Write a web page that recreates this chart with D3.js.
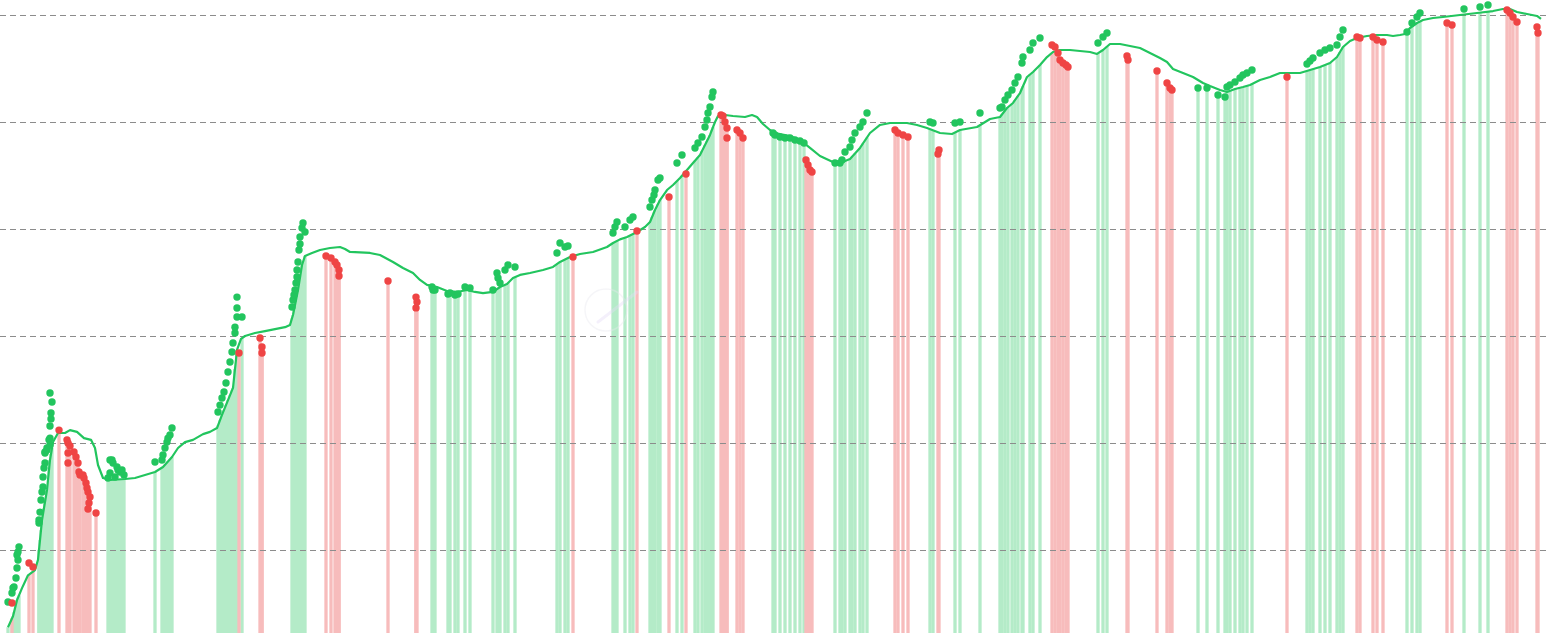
<!DOCTYPE html>
<html><head><meta charset="utf-8">
<script src="https://cdn.jsdelivr.net/npm/d3@7"></script>
<style>html,body{margin:0;padding:0;background:#fff;overflow:hidden}svg{display:block}</style>
</head><body><svg id="chart" width="1550" height="633"></svg>
<script>
// Moving-average line: [year, price]
const maLine = [[2010.58,0.19],[2010.63,0.24],[2010.67,0.34],[2010.72,0.44],[2010.78,0.58],[2010.85,0.65],[2010.88,0.81],[2010.92,1.9],[2010.97,3.64],[2011.00,6.94],[2011.03,10.2],[2011.08,12.4],[2011.15,12.4],[2011.20,13.2],[2011.27,12.7],[2011.34,11.1],[2011.41,10.7],[2011.45,8.98],[2011.48,6.23],[2011.53,4.71],[2011.60,4.51],[2011.75,4.61],[2011.85,4.71],[2011.95,5.02],[2012.05,5.36],[2012.13,5.97],[2012.22,7.40],[2012.28,8.98],[2012.35,10.2],[2012.43,10.7],[2012.53,12.1],[2012.60,12.7],[2012.67,13.8],[2012.72,18.3],[2012.78,25.2],[2012.83,32.7],[2012.87,74.0],[2012.91,93.8],[2012.95,100],[2013.05,106.7],[2013.15,111],[2013.25,116],[2013.35,121],[2013.40,127],[2013.43,157],[2013.48,269],[2013.52,461],[2013.55,560],[2013.62,597],[2013.70,637],[2013.80,664],[2013.90,679],[2013.95,650],[2014.00,610],[2014.20,597],[2014.30,571],[2014.43,492],[2014.53,432],[2014.63,388],[2014.70,334],[2014.77,300],[2014.87,287],[2014.97,263],[2015.07,258],[2015.17,269],[2015.25,258],[2015.33,252],[2015.43,258],[2015.50,287],[2015.57,306],[2015.63,348],[2015.70,372],[2015.80,388],[2015.93,414],[2016.03,442],[2016.10,492],[2016.20,547],[2016.30,584],[2016.43,610],[2016.57,679],[2016.63,740],[2016.70,800],[2016.77,842],[2016.87,938],[2016.95,1045],[2017.00,1163],[2017.05,1505],[2017.10,1866],[2017.17,2314],[2017.23,2578],[2017.30,2998],[2017.37,3558],[2017.43,4140],[2017.50,4920],[2017.55,6100],[2017.60,7565],[2017.65,10000],[2017.68,11380],[2017.75,11620],[2017.83,11380],[2017.95,11140],[2018.02,11620],[2018.07,11140],[2018.13,9580],[2018.20,8420],[2018.25,7890],[2018.40,7400],[2018.50,6790],[2018.60,5720],[2018.70,4810],[2018.85,4140],[2018.90,4140],[2019.00,4510],[2019.10,5720],[2019.20,7890],[2019.30,9380],[2019.40,9790],[2019.57,9790],[2019.67,9380],[2019.77,8790],[2019.90,7890],[2020.02,7720],[2020.10,8420],[2020.27,8980],[2020.40,10670],[2020.50,11140],[2020.57,13520],[2020.63,15060],[2020.70,18660],[2020.77,26350],[2020.83,29320],[2020.90,34120],[2020.97,40470],[2021.03,45090],[2021.10,47100],[2021.20,47100],[2021.30,46100],[2021.40,45090],[2021.47,43250],[2021.53,47100],[2021.60,53570],[2021.70,53570],[2021.80,51290],[2021.90,49170],[2022.00,44160],[2022.10,39630],[2022.17,36390],[2022.23,31270],[2022.33,28710],[2022.43,26350],[2022.53,23130],[2022.60,21690],[2022.70,19910],[2022.77,19060],[2022.85,20340],[2022.93,21240],[2023.00,22180],[2023.10,24710],[2023.20,26350],[2023.30,28710],[2023.50,28710],[2023.60,30620],[2023.70,32660],[2023.80,35570],[2023.87,40470],[2023.93,50230],[2024.00,57150],[2024.07,60950],[2024.17,63630],[2024.27,65000],[2024.37,65000],[2024.43,63630],[2024.50,65000],[2024.55,66400],[2024.60,75630],[2024.67,84170],[2024.73,89790],[2024.83,93770],[2024.93,95790],[2025.10,100000],[2025.27,104400],[2025.43,108900],[2025.53,113800],[2025.60,113800],[2025.67,106600],[2025.77,102100],[2025.87,97900],[2025.91,91800]];

// Green signals: [year, price]
const upSignals = [[2010.58,0.327],[2010.62,0.396],[2010.63,0.442],[2010.64,0.451],[2010.66,0.547],[2010.67,0.679],[2010.68,0.806],[2010.67,0.898],[2010.68,0.958],[2010.69,1.07],[2010.89,1.79],[2010.89,1.906],[2010.90,2.26],[2010.91,2.93],[2010.92,3.48],[2010.93,3.88],[2010.93,4.81],[2010.94,5.84],[2010.95,6.50],[2010.95,8.07],[2010.95,8.24],[2010.97,8.60],[2010.97,8.98],[2010.99,10.7],[2011.00,9.58],[2011.00,11.1],[2011.00,14.4],[2011.01,16.8],[2011.01,19.1],[2011.02,24.2],[2011.00,29.3],
[2011.58,4.71],[2011.60,5.24],[2011.60,6.94],[2011.62,6.94],[2011.63,6.50],[2011.65,4.81],[2011.67,5.97],[2011.68,5.59],[2011.70,5.36],[2011.72,5.59],[2011.74,5.02],
[2012.05,6.64],[2012.12,6.94],[2012.13,7.72],[2012.15,8.98],[2012.17,10.2],[2012.18,11.1],[2012.20,11.9],[2012.22,13.8],
[2012.68,19.5],[2012.70,22.6],[2012.72,26.3],[2012.74,30.0],[2012.76,36.4],[2012.78,46.1],[2012.80,57.2],[2012.82,70.8],[2012.83,86.0],[2012.85,106.7],[2012.85,121],[2012.87,150.6],[2012.87,182.7],[2012.87,231],[2012.92,150.6],
[2013.42,186.6],[2013.43,217],[2013.44,242],[2013.45,269],[2013.46,313],[2013.47,356],[2013.47,414],[2013.48,492],[2013.49,637],[2013.50,724],[2013.50,842],[2013.52,1022],[2013.53,1138],[2013.55,938],
[2014.82,287],[2014.83,269],[2014.85,269],[2014.98,247],[2015.00,252],[2015.05,242],[2015.08,247],[2015.15,287],[2015.20,281],
[2015.43,269],[2015.47,388],[2015.48,348],[2015.50,313],[2015.55,414],[2015.58,461],[2015.65,442],
[2016.07,597],[2016.10,740],[2016.15,679],[2016.18,693],
[2016.63,918],[2016.65,1045],[2016.67,1163],[2016.75,1045],[2016.80,1213],[2016.83,1294],
[2017.00,1606],[2017.02,1866],[2017.04,2080],[2017.05,2314],[2017.08,2870],[2017.10,2998],[2017.27,4140],[2017.32,4920],
[2017.45,5720],[2017.48,6370],[2017.52,7240],[2017.55,8980],[2017.57,10440],[2017.58,12140],[2017.60,13800],[2017.62,17130],[2017.63,19060],
[2018.23,7890],[2018.25,7565],[2018.30,7240],[2018.35,7080],[2018.40,7080],[2018.45,6790],[2018.50,6640],[2018.54,6370],
[2018.85,4140],[2018.90,4140],[2018.92,4415],[2018.95,5248],[2019.00,5840],[2019.02,6790],[2019.05,7890],[2019.10,8980],[2019.13,10000],[2019.17,12140],
[2019.80,10000],[2019.83,9790],[2020.05,9790],[2020.10,10000],[2020.30,12140],
[2020.50,13520],[2020.52,13800],[2020.55,16060],[2020.58,17870],[2020.62,19910],[2020.65,23130],[2020.68,26350],[2020.72,35570],[2020.73,40470],[2020.80,47100],[2020.83,54710],[2020.90,60950],
[2021.48,54710],[2021.53,62270],[2021.57,67920],
[2022.48,20800],[2022.57,20800],[2022.68,17870],[2022.75,17130],[2022.77,21240],[2022.80,22180],[2022.85,23660],[2022.90,25770],[2022.93,27500],[2022.97,28710],[2023.02,30620],
[2023.57,34830],[2023.60,37170],[2023.63,39630],[2023.70,44160],[2023.75,47100],[2023.80,49170],[2023.87,52480],[2023.90,62270],[2023.93,72440],
[2024.57,69340],[2024.62,84170],[2024.67,95790],[2024.70,104400],
[2025.14,113800],[2025.30,118800],[2025.38,123900]];

// Red signals: [year, price]
const downSignals = [[2010.62,0.320],[2010.79,0.756],[2010.83,0.694],
[2011.09,13.2],[2011.17,10.7],[2011.18,10.0],[2011.20,9.38],[2011.18,8.07],[2011.18,6.50],[2011.24,8.24],[2011.26,7.40],[2011.28,6.50],[2011.29,5.36],[2011.30,5.02],[2011.33,5.02],[2011.34,4.71],[2011.36,4.23],[2011.37,3.80],[2011.38,3.48],[2011.40,3.13],[2011.39,2.75],[2011.38,2.42],[2011.46,2.22],
[2012.89,69.3],[2013.10,95.8],[2013.12,78.9],[2013.12,69.3],
[2013.76,560],[2013.81,536],[2013.85,492],[2013.87,461],[2013.89,414],[2013.89,364],
[2014.38,327],[2014.66,231],[2014.67,208],[2014.66,183],
[2016.23,547],[2016.87,958],[2017.19,1991],[2017.36,3266],
[2017.71,11620],[2017.73,11380],[2017.75,10000],[2017.77,8790],[2017.77,7080],[2017.87,8420],[2017.90,7890],[2017.93,7080],
[2018.56,4415],[2018.58,3963],[2018.60,3558],[2018.62,3412],
[2019.45,8420],[2019.48,7890],[2019.53,7565],[2019.58,7240],[2019.88,5020],[2019.89,5470],
[2021.02,52480],[2021.05,50230],[2021.08,44160],[2021.10,37930],[2021.13,35570],[2021.16,34120],[2021.18,32660],
[2021.77,41400],[2021.78,37930],[2022.07,29990],[2022.17,23130],[2022.20,20800],[2022.22,19910],
[2023.37,26350],
[2024.07,62270],[2024.10,60950],[2024.23,62270],[2024.27,58380],[2024.33,55950],
[2024.97,84170],[2025.02,80680],
[2025.57,111400],[2025.60,104400],[2025.63,95790],[2025.67,86060],[2025.87,77270],[2025.88,67920]];

const gridValues = [1, 10, 100, 1000, 10000, 100000];

const W = 1550, H = 633;
const svg = d3.select("#chart");
const x = d3.scaleLinear().domain([2010.5, 2026.0]).range([0, W]);
const y = d3.scaleLog().domain([0.1676, 138100]).range([H, 0]);

const bis = d3.bisector(d => d[0]).left;
function maAt(t) {
  let i = bis(maLine, t);
  if (i <= 0) return maLine[0][1];
  if (i >= maLine.length) return maLine[maLine.length - 1][1];
  const a = maLine[i - 1], b = maLine[i];
  const f = (t - a[0]) / (b[0] - a[0]);
  return Math.pow(10, Math.log10(a[1]) + f * (Math.log10(b[1]) - Math.log10(a[1])));
}

const bw = 3.3;
const bars = svg.append("g");
function drawBars(data, color) {
  bars.selectAll(null).data(data).enter().append("rect")
    .attr("x", d => x(d[0]) - bw / 2)
    .attr("width", bw)
    .attr("y", d => y(Math.min(d[1], maAt(d[0]))))
    .attr("height", d => H - y(Math.min(d[1], maAt(d[0]))))
    .attr("fill", color);
}
drawBars(upSignals, "#b4ebc8");
drawBars(downSignals, "#f7bcbc");

// faint watermark
const wm = svg.append("g").attr("opacity", 0.4);
wm.append("circle").attr("cx", 606).attr("cy", 310).attr("r", 21).attr("fill", "none").attr("stroke", "#e8e8ee").attr("stroke-width", 1.5);
wm.append("line").attr("x1", 598).attr("y1", 322).attr("x2", 637).attr("y2", 292).attr("stroke", "#e4dcf7").attr("stroke-width", 3).attr("stroke-linecap", "round");

svg.append("g").selectAll("line").data(gridValues).enter().append("line")
  .attr("x1", 0).attr("x2", W)
  .attr("y1", d => Math.round(y(d)) + 0.5).attr("y2", d => Math.round(y(d)) + 0.5)
  .attr("stroke", "#8c8c8c").attr("stroke-width", 1).attr("stroke-dasharray", "6,4");

svg.append("path").datum(maLine)
  .attr("d", d3.line().x(d => x(d[0])).y(d => y(d[1])))
  .attr("fill", "none").attr("stroke", "#22c55e").attr("stroke-width", 2.2).attr("stroke-linejoin", "round");

const dots = svg.append("g");
dots.selectAll(null).data(upSignals).enter().append("circle")
  .attr("cx", d => x(d[0])).attr("cy", d => y(d[1])).attr("r", 3.7).attr("fill", "#22c55e");
dots.selectAll(null).data(downSignals).enter().append("circle")
  .attr("cx", d => x(d[0])).attr("cy", d => y(d[1])).attr("r", 3.7).attr("fill", "#ef4444");
</script></body></html>
